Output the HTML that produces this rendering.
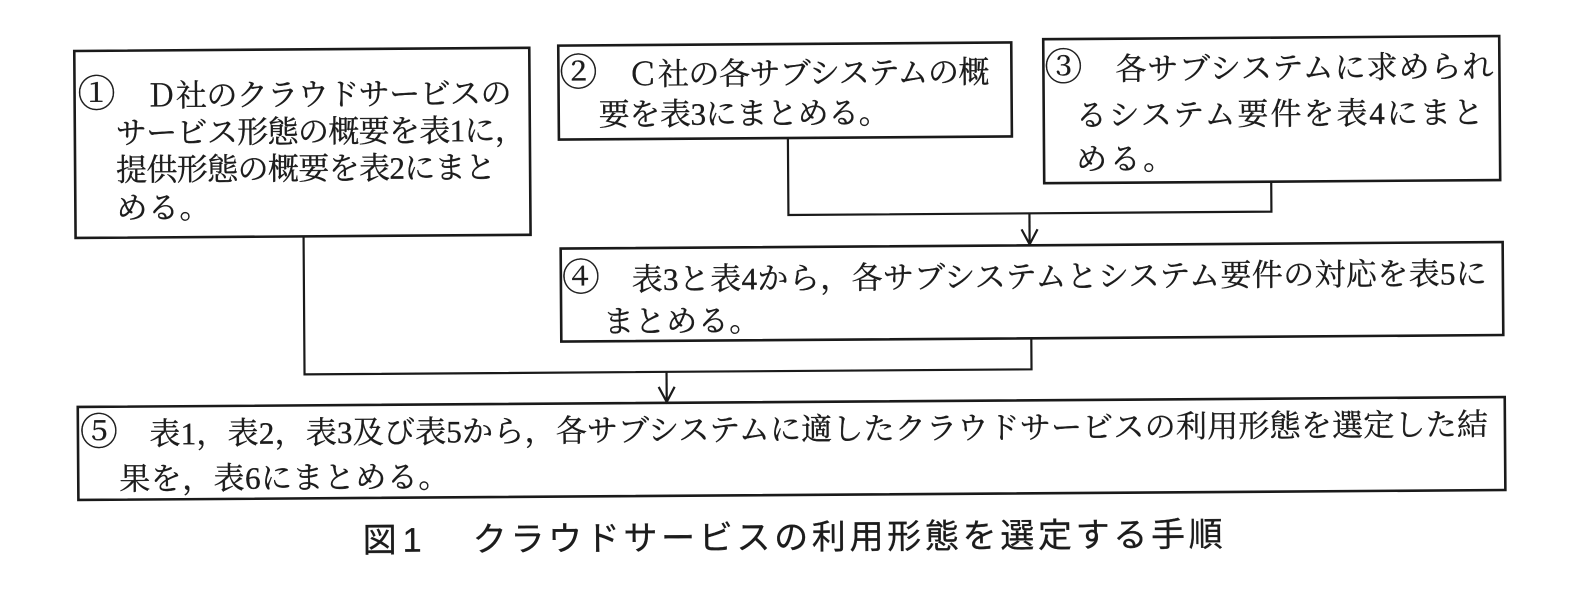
<!DOCTYPE html>
<html>
<head>
<meta charset="utf-8">
<style>
  html, body { margin: 0; padding: 0; background: #fff; }
  body { width: 1580px; height: 592px; overflow: hidden; }
  svg { display: block; }
  .t { font-family: "Liberation Serif", "Noto Serif CJK SC", "Noto Serif CJK JP", serif; font-size: 31px; fill: #1c1c1c; stroke: #1c1c1c; stroke-width: 0.35; }
  .n { font-family: "Noto Serif CJK SC", "Noto Sans CJK JP", serif; font-size: 38px; }
  .c { font-family: "Liberation Sans", "Noto Sans CJK JP", sans-serif; font-size: 34px; fill: #1c1c1c; stroke: #1c1c1c; stroke-width: 0.3; }
  .box { fill: none; stroke: #1a1a1a; stroke-width: 2.6; }
  .ln { fill: none; stroke: #1a1a1a; stroke-width: 2.2; }
</style>
</head>
<body>
<svg width="1580" height="592" viewBox="0 0 1580 592" xmlns="http://www.w3.org/2000/svg">
  <rect width="1580" height="592" fill="#ffffff"/>
  <g transform="rotate(-0.4 790 296)">
    <!-- Boxes -->
    <rect class="box" x="76" y="46" width="455" height="187"/>
    <rect class="box" x="560" y="44" width="453" height="94"/>
    <rect class="box" x="1045" y="41" width="456" height="144"/>
    <rect class="box" x="561" y="247" width="942" height="93"/>
    <rect class="box" x="77" y="402" width="1427" height="93"/>

    <!-- Connectors -->
    <polyline class="ln" points="789,138 789,215 1272,215 1272,185"/>
    <line class="ln" x1="1030" y1="215" x2="1030" y2="246"/>
    <polyline class="ln" points="1022,231 1030,246 1038,231"/>

    <polyline class="ln" points="304,233 304,371 1031,371 1031,340"/>
    <line class="ln" x1="666" y1="371" x2="666" y2="401"/>
    <polyline class="ln" points="658,386 666,401 674,386"/>

    <!-- Box 1 text -->
    <text class="t" x="79" y="102" textLength="434" lengthAdjust="spacing"><tspan class="n">①</tspan>　Ｄ社のクラウドサービスの</text>
    <text class="t" x="117" y="139" textLength="410" lengthAdjust="spacing">サービス形態の概要を表1に，</text>
    <text class="t" x="117" y="176" textLength="380" lengthAdjust="spacing">提供形態の概要を表2にまと</text>
    <text class="t" x="117" y="214" textLength="94" lengthAdjust="spacing">める。</text>

    <!-- Box 2 text -->
    <text class="t" x="561" y="84" textLength="430" lengthAdjust="spacing"><tspan class="n">②</tspan>　Ｃ社の各サブシステムの概</text>
    <text class="t" x="600" y="124" textLength="291" lengthAdjust="spacing">要を表3にまとめる。</text>

    <!-- Box 3 text -->
    <text class="t" x="1046" y="82" textLength="449" lengthAdjust="spacing"><tspan class="n">③</tspan>　各サブシステムに求められ</text>
    <text class="t" x="1077" y="128" textLength="408" lengthAdjust="spacing">るシステム要件を表4にまと</text>
    <text class="t" x="1077" y="172" textLength="98" lengthAdjust="spacing">める。</text>

    <!-- Box 4 text -->
    <text class="t" x="562" y="289" textLength="925" lengthAdjust="spacing"><tspan class="n">④</tspan>　表3と表4から，各サブシステムとシステム要件の対応を表5に</text>
    <text class="t" x="603" y="331" textLength="157" lengthAdjust="spacing">まとめる。</text>

    <!-- Box 5 text -->
    <text class="t" x="79" y="440" textLength="1408" lengthAdjust="spacing"><tspan class="n">⑤</tspan>　表1，表2，表3及び表5から，各サブシステムに適したクラウドサービスの利用形態を選定した結</text>
    <text class="t" x="118" y="485" textLength="330" lengthAdjust="spacing">果を，表6にまとめる。</text>

    <!-- Caption -->
    <text class="c" x="361" y="549">図</text>
    <text class="c" x="401" y="549">1</text>
    <text class="c" x="471" y="549" textLength="750" lengthAdjust="spacing">クラウドサービスの利用形態を選定する手順</text>
  </g>
</svg>
</body>
</html>
